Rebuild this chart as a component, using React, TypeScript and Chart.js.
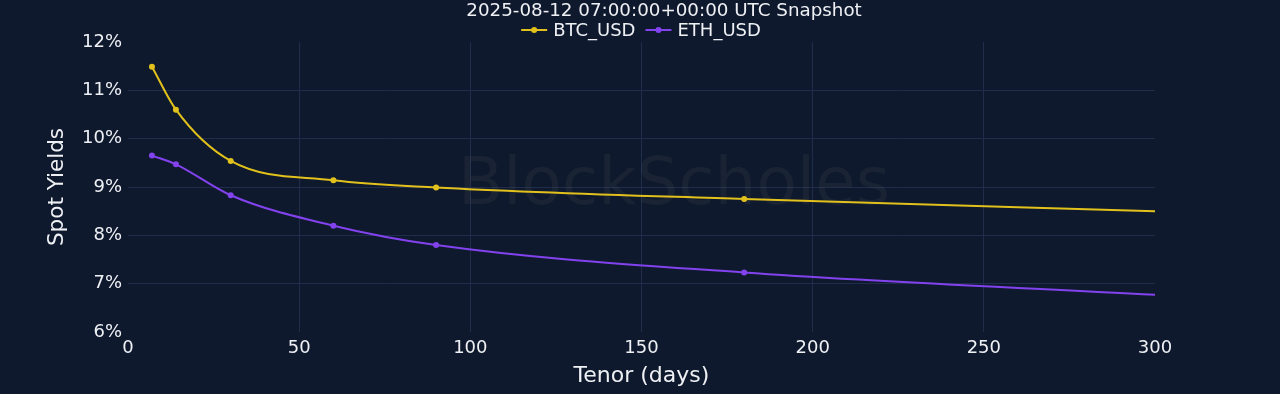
import React, { useEffect, useRef } from "react";
import { Chart, registerables } from "chart.js";

Chart.register(...registerables);

const TITLE = "2025-08-12 07:00:00+00:00 UTC Snapshot";
const tenors = [7, 14, 30, 60, 90, 180, 300];
const btcYields = [11.49, 10.6, 9.54, 9.14, 8.99, 8.75, 8.5];
const ethYields = [9.65, 9.47, 8.83, 8.2, 7.8, 7.23, 6.77];
const markerShown = [true, true, true, true, true, true, false];
const seriesNames = ["BTC_USD", "ETH_USD"];
const seriesColors = ["#e2c11c", "#8242ee"];
const xTicks = [0, 50, 100, 150, 200, 250, 300];
const yTicks = [6, 7, 8, 9, 10, 11, 12];

const BG = "#0e192d";
const GRID = "#1f2c4a";
const TEXT = "#eef0f4";
const FONT = "'DejaVu Sans', Verdana, sans-serif";

export default function App() {
  const ref = useRef<HTMLCanvasElement | null>(null);

  useEffect(() => {
    document.body.style.margin = "0";
    document.body.style.background = BG;
    const canvas = ref.current;
    if (!canvas) return;

    const decor = {
      id: "decor",
      beforeDraw(chart: any) {
        const { ctx, width, height } = chart;
        ctx.save();
        ctx.fillStyle = BG;
        ctx.fillRect(0, 0, width, height);
        ctx.restore();
      },
      beforeDatasetsDraw(chart: any) {
        const { ctx } = chart;
        ctx.save();
        ctx.fillStyle = "rgba(120,115,105,0.11)";
        ctx.font = `66px ${FONT}`;
        ctx.textAlign = "center";
        ctx.textBaseline = "middle";
        ctx.fillText("BlockScholes", 674, 187);
        ctx.restore();
      },
      afterDraw(chart: any) {
        const { ctx } = chart;
        ctx.save();
        ctx.fillStyle = TEXT;
        ctx.font = `18.3px ${FONT}`;
        ctx.textAlign = "center";
        ctx.textBaseline = "middle";
        ctx.fillText(TITLE, 664, 11);
        // legend
        ctx.font = `18px ${FONT}`;
        ctx.textAlign = "left";
        const gap = 10;
        const lineW = 26;
        const widths = seriesNames.map((n) => ctx.measureText(n).width);
        const total = widths.reduce((a, w) => a + lineW + 6 + w, 0) + gap * (seriesNames.length - 1);
        let x = 641 - total / 2;
        const y = 30;
        seriesNames.forEach((n, i) => {
          ctx.strokeStyle = seriesColors[i];
          ctx.lineWidth = 2;
          ctx.beginPath();
          ctx.moveTo(x, y);
          ctx.lineTo(x + lineW, y);
          ctx.stroke();
          ctx.fillStyle = seriesColors[i];
          ctx.beginPath();
          ctx.arc(x + lineW / 2, y, 3, 0, Math.PI * 2);
          ctx.fill();
          ctx.fillStyle = TEXT;
          ctx.fillText(n, x + lineW + 6, y + 1);
          x += lineW + 6 + widths[i] + gap;
        });
        ctx.restore();
      },
    };

    const mk = (vals: number[], i: number) => ({
      label: seriesNames[i],
      data: tenors.map((t, k) => ({ x: t, y: vals[k] })),
      borderColor: seriesColors[i],
      backgroundColor: seriesColors[i],
      borderWidth: 2,
      pointRadius: markerShown.map((m) => (m ? 3 : 0)),
      pointBorderWidth: 0,
      cubicInterpolationMode: "monotone" as const,
      fill: false,
    });

    const chart = new Chart(canvas, {
      type: "line",
      data: { datasets: [mk(btcYields, 0), mk(ethYields, 1)] },
      plugins: [decor],
      options: {
        animation: false,
        responsive: false,
        maintainAspectRatio: false,
        layout: { padding: { top: 42, right: 125, left: 0, bottom: 0 } },
        plugins: {
          legend: { display: false },
          title: { display: false },
          tooltip: { enabled: false },
        },
        scales: {
          x: {
            type: "linear",
            min: 0,
            max: 300,
            afterBuildTicks: (s: any) => {
              s.ticks = xTicks.map((v) => ({ value: v }));
            },
            afterFit: (s: any) => {
              s.height = 62;
            },
            border: { display: false },
            grid: {
              color: (c: any) =>
                c.tick && (c.tick.value === 0 || c.tick.value === 300) ? "rgba(0,0,0,0)" : GRID,
              lineWidth: 1,
              drawTicks: false,
            },
            ticks: {
              color: TEXT,
              font: { family: FONT, size: 18 },
              padding: 6,
              maxRotation: 0,
            },
            title: {
              display: true,
              text: "Tenor (days)",
              color: TEXT,
              font: { family: FONT, size: 22 },
              padding: { top: 2, bottom: 5 },
            },
          },
          y: {
            type: "linear",
            min: 6,
            max: 12,
            afterBuildTicks: (s: any) => {
              s.ticks = yTicks.map((v) => ({ value: v }));
            },
            afterFit: (s: any) => {
              s.width = 128;
            },
            border: { display: false },
            grid: {
              color: (c: any) =>
                c.tick && (c.tick.value === 6 || c.tick.value === 12) ? "rgba(0,0,0,0)" : GRID,
              lineWidth: 1,
              drawTicks: false,
            },
            ticks: {
              color: TEXT,
              font: { family: FONT, size: 18 },
              padding: 6,
              callback: (v: any) => `${v}%`,
            },
            title: {
              display: true,
              text: "Spot Yields",
              color: TEXT,
              font: { family: FONT, size: 21.5 },
              padding: { top: 45, bottom: 0 },
            },
          },
        },
      },
    });
    return () => chart.destroy();
  }, []);

  return (
    <div style={{ width: 1280, height: 394, background: BG }}>
      <canvas ref={ref} width={1280} height={394} style={{ display: "block" }} />
    </div>
  );
}
